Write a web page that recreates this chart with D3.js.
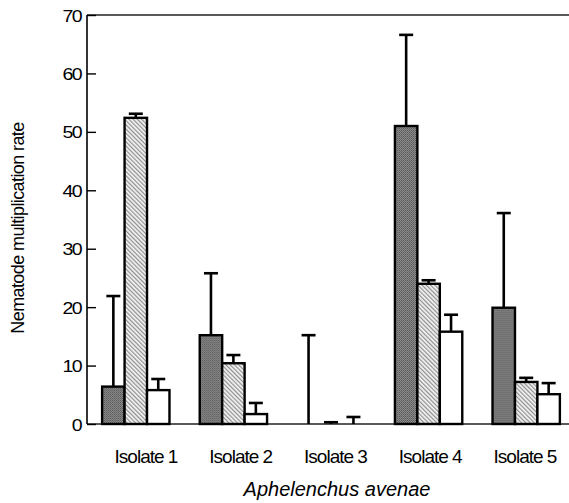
<!DOCTYPE html>
<html>
<head>
<meta charset="utf-8">
<script src="https://cdn.jsdelivr.net/npm/d3@7"></script>
<style>
  html, body { margin: 0; padding: 0; background: #fff; }
  svg { display: block; }
  text { font-family: "Liberation Sans", Arial, sans-serif; fill: #000; }
</style>
</head>
<body>
<svg id="chart" width="569" height="503"></svg>
<script>
// Multiplication rate of Aphelenchus avenae for five fungal isolates (three treatments each)
const isolates = ["Isolate 1", "Isolate 2", "Isolate 3", "Isolate 4", "Isolate 5"];
const series = ["dark", "hatched", "white"];
const darkMean    = [6.4, 15.2, 0, 51.0, 19.9];
const darkErr     = [15.5, 10.6, 15.2, 15.6, 16.2];
const hatchedMean = [52.4, 10.4, 0, 24.0, 7.2];
const hatchedErr  = [0.7, 1.4, 0.3, 0.6, 0.7];
const whiteMean   = [5.8, 1.7, 0, 15.8, 5.1];
const whiteErr    = [1.9, 1.9, 1.2, 2.9, 1.9];
const yTicks = [0, 10, 20, 30, 40, 50, 60, 70];

const means = { dark: darkMean, hatched: hatchedMean, white: whiteMean };
const errs  = { dark: darkErr,  hatched: hatchedErr,  white: whiteErr };

const svg = d3.select("#chart");
const defs = svg.append("defs");

// dotted dark-grey fill
const pDark = defs.append("pattern").attr("id", "pDark")
  .attr("patternUnits", "userSpaceOnUse").attr("width", 2).attr("height", 2);
pDark.append("rect").attr("width", 2).attr("height", 2).attr("fill", "#8c8c8c");
pDark.append("rect").attr("width", 1).attr("height", 1).attr("fill", "#555");
pDark.append("rect").attr("x", 1).attr("y", 1).attr("width", 1).attr("height", 1).attr("fill", "#6a6a6a");

// fine diagonal hatching
const pHatch = defs.append("pattern").attr("id", "pHatch")
  .attr("patternUnits", "userSpaceOnUse").attr("width", 3).attr("height", 3)
  .attr("patternTransform", "rotate(-45)");
pHatch.append("rect").attr("width", 3).attr("height", 3).attr("fill", "#f4f4f4");
pHatch.append("rect").attr("width", 1.2).attr("height", 3).attr("fill", "#8e8e8e");

const fills = { dark: "url(#pDark)", hatched: "url(#pHatch)", white: "#fff" };

const y = d3.scaleLinear().domain([0, 70]).range([424, 15]);
const x0 = d3.scaleBand().domain(isolates).range([87, 575])
  .paddingInner(0.31).paddingOuter(0.155);
const x1 = d3.scaleBand().domain(series).range([0, x0.bandwidth()]);
// category labels sit on their own evenly spaced positions
const xLabel = d3.scalePoint().domain(isolates).range([146, 525]);

// frame: top line and baseline
svg.append("line").attr("x1", 87).attr("x2", 569).attr("y1", y(70)).attr("y2", y(70))
  .attr("stroke", "#222").attr("stroke-width", 1.6);
svg.append("line").attr("x1", 87).attr("x2", 569).attr("y1", y(0)).attr("y2", y(0))
  .attr("stroke", "#222").attr("stroke-width", 1.6);

const groups = svg.append("g").selectAll("g")
  .data(isolates).join("g")
  .attr("transform", d => `translate(${x0(d)},0)`);

const items = groups.selectAll("g")
  .data((d, i) => series.map(s => ({ s, v: means[s][i], e: errs[s][i] })))
  .join("g");

// error bars (upper only)
items.append("line")
  .attr("x1", d => x1(d.s) + x1.bandwidth() / 2)
  .attr("x2", d => x1(d.s) + x1.bandwidth() / 2)
  .attr("y1", d => y(d.v)).attr("y2", d => y(d.v + d.e))
  .attr("stroke", "#000").attr("stroke-width", 2.6);
items.append("line")
  .attr("x1", d => x1(d.s) + x1.bandwidth() / 2 - 7)
  .attr("x2", d => x1(d.s) + x1.bandwidth() / 2 + 7)
  .attr("y1", d => y(d.v + d.e)).attr("y2", d => y(d.v + d.e))
  .attr("stroke", "#000").attr("stroke-width", 2.6);

// bars
items.filter(d => d.v > 0).append("rect")
  .attr("x", d => x1(d.s))
  .attr("width", x1.bandwidth())
  .attr("y", d => y(d.v))
  .attr("height", d => y(0) - y(d.v))
  .attr("fill", d => fills[d.s])
  .attr("stroke", "#000").attr("stroke-width", 2.4);

// y axis with inward ticks
const yAxis = svg.append("g").attr("transform", "translate(87,0)")
  .call(d3.axisRight(y).tickValues(yTicks).tickSize(9).tickFormat(d3.format("d")));
yAxis.select(".domain").attr("stroke", "#000").attr("stroke-width", 1.6)
  .attr("d", `M0,${y(70)}V${y(0)}`);
yAxis.selectAll(".tick line").attr("stroke", "#000").attr("stroke-width", 1.4);
yAxis.selectAll(".tick text")
  .attr("x", 0).attr("dy", "0.36em")
  .attr("text-anchor", "end")
  .style("font-size", "17px").style("letter-spacing", "-1.4px")
  .attr("transform", "translate(-6,0) scale(1.15,1)");

// category labels
svg.append("g").selectAll("text")
  .data(isolates).join("text")
  .attr("x", d => xLabel(d))
  .attr("y", 463)
  .attr("text-anchor", "middle")
  .style("font-size", "19px").style("letter-spacing", "-1px")
  .text(d => d);

// x title
svg.append("text")
  .attr("x", 337).attr("y", 496)
  .attr("text-anchor", "middle")
  .style("font-size", "20px").style("font-style", "italic").style("letter-spacing", "0px")
  .text("Aphelenchus avenae");

// y title
svg.append("text")
  .attr("transform", "translate(24,228) rotate(-90)")
  .attr("text-anchor", "middle")
  .style("font-size", "18px").style("letter-spacing", "-0.6px")
  .text("Nematode multiplication rate");
</script>
</body>
</html>
